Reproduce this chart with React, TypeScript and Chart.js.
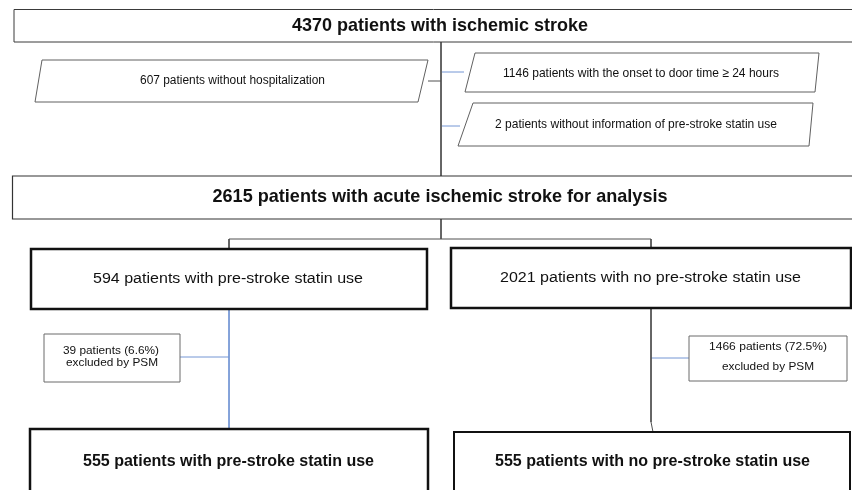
import React, { useEffect, useRef } from "react";
import { Chart, registerables } from "chart.js";

Chart.register(...registerables);

// ---- data ----
const totalPatients = 4370;
const noHospitalization = 607;
const lateOnset = 1146;
const missingStatinInfo = 2;
const analysed = 2615;
const statinUsers = 594;
const nonUsers = 2021;
const excludedUsers = 39;
const excludedUsersPct = 6.6;
const excludedNonUsers = 1466;
const excludedNonUsersPct = 72.5;
const matchedUsers = 555;
const matchedNonUsers = 555;

const nodeTexts: string[][] = [
  [`${totalPatients} patients with ischemic stroke`],
  [`${noHospitalization} patients without hospitalization`],
  [`${lateOnset} patients with the onset to door time \u2265 24 hours`],
  [`${missingStatinInfo} patients without information of pre-stroke statin use`],
  [`${analysed} patients with acute ischemic stroke for analysis`],
  [`${statinUsers} patients with pre-stroke statin use`],
  [`${nonUsers} patients with no pre-stroke statin use`],
  [`${excludedUsers} patients (${excludedUsersPct}%)`, "excluded by PSM"],
  [`${excludedNonUsers} patients (${excludedNonUsersPct}%)`, "excluded by PSM"],
  [`${matchedUsers} patients with pre-stroke statin use`],
  [`${matchedNonUsers} patients with no pre-stroke statin use`],
];

// ---- layout (positions / styles), in page pixels ----
type Layout = {
  pts: number[][]; // tl, tr, br, bl
  bold: boolean; size: number; lw: number; stroke: string;
  lines: { cx: number; y: number; w: number }[];
};
const rect = (x0: number, y0: number, x1: number, y1: number) => [
  [x0, y0], [x1, y0], [x1, y1], [x0, y1],
];
const layouts: Layout[] = [
  { pts: rect(14, 9.5, 862, 42), bold: true, size: 18.5, lw: 1, stroke: "#3a3a3a", lines: [{ cx: 440, y: 25.5, w: 296 }] },
  { pts: [[42, 60], [428, 60], [418, 102], [35, 102]], bold: false, size: 12, lw: 1, stroke: "#606060", lines: [{ cx: 232.5, y: 81, w: 185 }] },
  { pts: [[475, 53], [819, 53], [815, 92], [465, 92]], bold: false, size: 13, lw: 1, stroke: "#606060", lines: [{ cx: 641, y: 73, w: 276 }] },
  { pts: [[473, 103], [813, 103], [809, 146], [458, 146]], bold: false, size: 13, lw: 1, stroke: "#606060", lines: [{ cx: 636, y: 124, w: 282 }] },
  { pts: rect(12.5, 176, 862, 219), bold: true, size: 18.5, lw: 1.2, stroke: "#333", lines: [{ cx: 440, y: 197, w: 455 }] },
  { pts: rect(31, 249, 427, 309), bold: false, size: 15.5, lw: 2.5, stroke: "#111", lines: [{ cx: 228, y: 279, w: 270 }] },
  { pts: rect(451, 248, 851, 308), bold: false, size: 15.5, lw: 2.5, stroke: "#111", lines: [{ cx: 650.5, y: 278, w: 301 }] },
  { pts: rect(44, 334, 180, 382), bold: false, size: 10.5, lw: 1, stroke: "#6a6a6a", lines: [{ cx: 111, y: 351, w: 96 }, { cx: 112, y: 363.5, w: 92 }] },
  { pts: rect(689, 336, 847, 381), bold: false, size: 10.5, lw: 1, stroke: "#6a6a6a", lines: [{ cx: 768, y: 347.5, w: 118 }, { cx: 768, y: 367, w: 92 }] },
  { pts: rect(30, 429, 428, 505), bold: true, size: 16, lw: 2.5, stroke: "#111", lines: [{ cx: 228.5, y: 462, w: 291 }] },
  { pts: rect(454, 432, 850, 505), bold: true, size: 16, lw: 2, stroke: "#111", lines: [{ cx: 652.5, y: 462, w: 315 }] },
];

const darkLinks: number[][] = [
  [441, 42, 441, 176],
  [428, 81, 441, 81],
  [441, 219, 441, 239],
  [229, 239, 651, 239],
  [229, 239, 229, 249],
  [651, 239, 651, 248],
  [651, 308, 651, 422],
  [651, 422, 653, 432],
];
const blueLinks: number[][] = [
  [442, 72, 464, 72],
  [442, 126, 460, 126],
  [229, 309, 229, 429],
  [180, 357, 229, 357],
  [651, 358, 689, 358],
];

const boxesPlugin = {
  id: "flowBoxes",
  afterDatasetsDraw(chart: any) {
    const ctx = chart.ctx as CanvasRenderingContext2D;
    const sx = chart.scales.x;
    const sy = chart.scales.y;
    const px = (v: number) => sx.getPixelForValue(v);
    const py = (v: number) => sy.getPixelForValue(v);
    layouts.forEach((b, i) => {
      ctx.save();
      ctx.beginPath();
      b.pts.forEach((p, k) => {
        if (k === 0) ctx.moveTo(px(p[0]), py(p[1]));
        else ctx.lineTo(px(p[0]), py(p[1]));
      });
      ctx.closePath();
      ctx.fillStyle = "#ffffff";
      ctx.fill();
      ctx.lineWidth = b.lw;
      ctx.strokeStyle = b.stroke;
      ctx.stroke();
      ctx.fillStyle = "#111";
      ctx.textAlign = "center";
      ctx.textBaseline = "middle";
      ctx.font = `${b.bold ? "bold " : ""}${b.size}px "Liberation Sans", Arial, sans-serif`;
      nodeTexts[i].forEach((t, j) => {
        const ln = b.lines[j];
        const natural = ctx.measureText(t).width;
        const k = ln.w / natural;
        ctx.save();
        ctx.translate(px(ln.cx), py(ln.y));
        ctx.scale(k, 1);
        ctx.fillText(t, 0, 0);
        ctx.restore();
      });
      ctx.restore();
    });
  },
};

export default function App() {
  const ref = useRef<HTMLCanvasElement | null>(null);
  useEffect(() => {
    if (!ref.current) return;
    const mk = (seg: number[], color: string) => ({
      type: "line" as const,
      data: [{ x: seg[0], y: seg[1] }, { x: seg[2], y: seg[3] }],
      borderColor: color,
      borderWidth: 1,
      pointRadius: 0,
      showLine: true,
      fill: false,
    });
    const chart = new Chart(ref.current, {
      type: "scatter",
      data: {
        datasets: [
          ...darkLinks.map((s) => mk(s, "#505050")),
          ...blueLinks.map((s) => mk(s, "#7496d4")),
        ] as any,
      },
      options: {
        animation: false,
        responsive: false,
        devicePixelRatio: 1,
        layout: { padding: 0 },
        plugins: { legend: { display: false }, tooltip: { enabled: false } },
        events: [],
        scales: {
          x: { type: "linear", min: 0, max: 852, display: false },
          y: { type: "linear", min: 0, max: 490, reverse: true, display: false },
        },
      },
      plugins: [boxesPlugin],
    });
    return () => chart.destroy();
  }, []);
  return (
    <div style={{ position: "fixed", left: 0, top: 0, width: 852, height: 490, background: "#fff" }}>
      <canvas ref={ref} width={852} height={490} style={{ display: "block" }} />
    </div>
  );
}
